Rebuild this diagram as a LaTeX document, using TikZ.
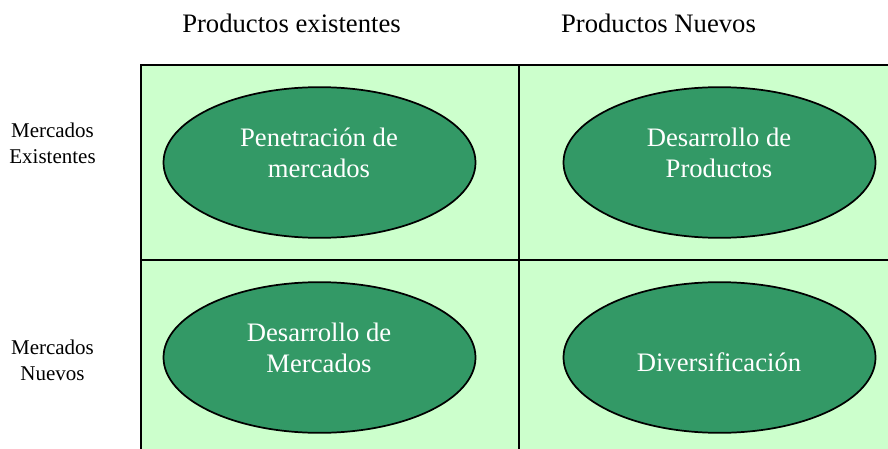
\documentclass[tikz,border=0pt]{standalone}
\usepackage{fontspec}
\setmainfont{Liberation Serif}
\usetikzlibrary{shapes.geometric}
\definecolor{cellgreen}{HTML}{CCFFCC}
\definecolor{ovalgreen}{HTML}{339966}
\begin{document}
\begin{tikzpicture}[x=0.75pt,y=-0.75pt,
  oval/.style={ellipse, draw=black, line width=1.3pt, fill=ovalgreen,
    minimum width=234pt, minimum height=113pt, inner sep=0pt},
  ovaltext/.style={text=white, align=center, inner sep=0pt,
    font=\fontsize{20}{23.25}\selectfont, anchor=base},
  head/.style={font=\fontsize{20}{24}\selectfont, anchor=base, inner sep=0pt},
  side/.style={font=\fontsize{15.75}{19.5}\selectfont, align=center, anchor=base, inner sep=0pt},
  gridline/.style={line width=1.4pt}]
\useasboundingbox (0,0) rectangle (888,449);
% cells
\fill[cellgreen] (141,65) rectangle (888,449);
\coordinate (tl) at (141,65);
\coordinate (tr) at (888,65);
\coordinate (bl) at (141,449);
\coordinate (tm) at (519,65);
\coordinate (bm) at (519,449);
\coordinate (ml) at (141,260);
\coordinate (mr) at (888,260);
\draw[gridline] (tr) -- (tl) -- (bl);
\draw[gridline] (tm) -- (bm);
\draw[gridline] (ml) -- (mr);
% headers
\node[head] (h1) at (291.5,33) {Productos existentes};
\node[head] (h2) at (658.5,33) {Productos Nuevos};
\node[side] (s1) at (52.5,163) {Mercados\\Existentes};
\node[side] (s2) at (52.5,380) {Mercados\\Nuevos};
% ovals
\node[oval] (o1) at (319.5,162.5) {};
\node[oval] (o2) at (719.5,162.5) {};
\node[oval] (o3) at (319.5,357.5) {};
\node[oval] (o4) at (719.5,357.5) {};
\node[ovaltext] (t1) at (319,177) {Penetración de\\mercados};
\node[ovaltext] (t2) at (719,177) {Desarrollo de\\Productos};
\node[ovaltext] (t3) at (319,372) {Desarrollo de\\Mercados};
\node[ovaltext] (t4) at (719,371.5) {Diversificación};
\end{tikzpicture}
\end{document}
